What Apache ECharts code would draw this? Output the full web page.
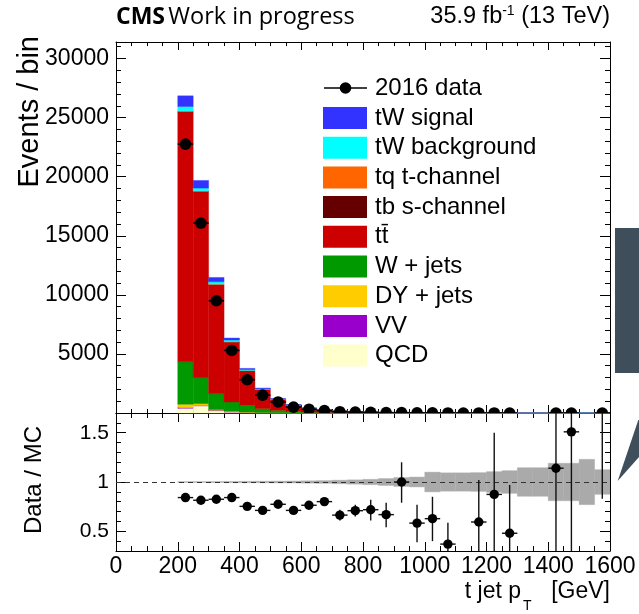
<!DOCTYPE html>
<html><head><meta charset="utf-8">
<script src="https://cdn.jsdelivr.net/npm/echarts@6.0.0/dist/echarts.min.js"></script>
<style>html,body{margin:0;padding:0;background:#fff}#c{width:639px;height:614px}</style>
</head><body><div id="c"></div>
<script>
// ---- bins (GeV) ----
const binLow  = [200,250,300,350,400,450,500,550,600,650,700,750,800,850,900,950,1000,1050,1100,1150,1200,1250,1300,1350,1400,1450,1500,1550];
const binHigh = [250,300,350,400,450,500,550,600,650,700,750,800,850,900,950,1000,1050,1100,1150,1200,1250,1300,1350,1400,1450,1500,1550,1600];

// ---- MC components (events / bin), stacked bottom -> top ----
const qcd    = [400,600,200,80,40,20,12,7,4,2.5,1.5,1,0.6,0.4,0.3,0.2,0.15,0.1,0.08,0.05,0.03,0.02,0.02,0.01,0.01,0.01,0,0];
const vv     = [60,40,40,20,10,8,5,3,2,1.2,0.8,0.5,0.3,0.2,0.15,0.1,0.07,0.05,0.04,0.03,0.02,0.01,0.01,0.01,0,0,0,0];
const dyjets = [280,150,50,50,30,17,10,6,4,2.5,1.5,1,0.6,0.4,0.25,0.2,0.13,0.1,0.08,0.05,0.03,0.02,0.01,0.01,0.01,0.01,0.01,0];
const wjets  = [3600,2200,1340,780,560,320,200,115,70,45,29,18.5,12,8,5.5,3.8,2.7,2.1,1.5,1.0,0.68,0.42,0.32,0.24,0.18,0.13,0.1,0.08];
const ttbar  = [21135,15740,9222,5072,2935,1633,928,538,320,196,125,78,51,33.8,22.3,15,10.6,8,5.85,3.7,2.5,1.52,1.16,0.87,0.64,0.48,0.37,0.3];
const tbS    = [15,10,5,3,2,1,1,0.5,0.3,0.2,0.1,0.1,0.05,0.03,0.02,0.01,0.01,0.01,0.01,0,0,0,0,0,0,0,0,0];
const tqT    = [85,70,50,30,18,11,6,3.5,2.2,1.3,0.9,0.6,0.35,0.27,0.18,0.12,0.09,0.07,0.05,0.03,0.02,0.01,0.01,0.01,0.01,0,0,0];
const tWbkg  = [365,225,200,140,80,45,20,12,7.5,4.8,3,1.9,1.3,0.8,0.55,0.4,0.3,0.22,0.15,0.1,0.07,0.04,0.03,0.02,0.01,0.01,0.01,0.01];
const tWsig  = [905,645,365,170,100,60,28,17,10,6.5,4.2,2.4,1.8,1.1,0.75,0.67,0.45,0.35,0.24,0.14,0.11,0.06,0.04,0.03,0.02,0.02,0.01,0.01];

// ---- 2016 data (events / bin); null = not drawn ----
const dataCounts = [22760,16075,9500,5296,2817,1510,937,500,321,208,110,74,49,30,30,12,9,4,0,3,3,1,null,null,1,1,null,1];

// ---- ratio panel ----
const ratioVal = [0.842,0.815,0.825,0.842,0.753,0.712,0.774,0.712,0.764,0.801,0.664,0.709,0.719,0.669,1.0,0.583,0.628,0.37,null,0.594,0.874,0.48,null,null,1.14,1.509,null,2.5];
const ratioLo  = [0.832,0.805,0.813,0.828,0.737,0.694,0.752,0.687,0.734,0.766,0.609,0.649,0.61,0.54,0.79,0.39,0.40,0.2,null,0.2,0.2,0.1,null,null,0.1,0.2,null,0.83];
const ratioHi  = [0.852,0.825,0.837,0.856,0.769,0.73,0.796,0.737,0.794,0.836,0.719,0.769,0.82,0.79,1.20,0.77,0.85,0.587,null,1.02,1.5,0.97,null,null,2.5,3.0,null,4.0];
const bandHalf = [0.004,0.004,0.005,0.006,0.007,0.008,0.009,0.01,0.012,0.014,0.018,0.022,0.027,0.035,0.045,0.05,0.10,0.093,0.093,0.095,0.105,0.115,0.145,0.145,0.19,0.19,0.23,0.125];

// ---- ticks ----
const mainMajorTicks = [5000,10000,15000,20000,25000,30000];
const mainMinorTicks = [1000,2000,3000,4000,6000,7000,8000,9000,11000,12000,13000,14000,16000,17000,18000,19000,21000,22000,23000,24000,26000,27000,28000,29000,31000];
const ratioMajorTicks = [0.5,1,1.5];
const ratioMinorTicks = [0.3,0.4,0.6,0.7,0.8,0.9,1.1,1.2,1.3,1.4,1.6,1.7];

const FONT = 'Liberation Sans';
const components = [
  {name:'QCD', color:'#ffffcc', values:qcd},
  {name:'VV', color:'#9900cc', values:vv},
  {name:'DY + jets', color:'#ffcc00', values:dyjets},
  {name:'W + jets', color:'#009900', values:wjets},
  {name:'tt\u0304', color:'#cc0000', values:ttbar},
  {name:'tb s-channel', color:'#660000', values:tbS},
  {name:'tq t-channel', color:'#ff6600', values:tqT},
  {name:'tW background', color:'#00ffff', values:tWbkg},
  {name:'tW signal', color:'#3333ff', values:tWsig}
];

function rectRender(color){
  return function(params, api){
    const y0 = api.value(2), y1 = api.value(3);
    if (!(y1 > y0)) return null;
    const a = api.coord([api.value(0), y0]);
    const b = api.coord([api.value(1), y1]);
    return {type:'rect', shape:{x:a[0], y:b[1], width:b[0]-a[0], height:a[1]-b[1]},
            style:{fill:color, stroke:color, lineWidth:0.4}};
  };
}

const series = [];
const running = binLow.map(()=>0);
components.forEach(c=>{
  const d = binLow.map((lo,i)=>{ const b = running[i]; running[i] += c.values[i]; return [lo, binHigh[i], b, running[i]]; });
  series.push({type:'custom', name:c.name, xAxisIndex:0, yAxisIndex:0, data:d, encode:{x:[0,1], y:[2,3]},
               renderItem:rectRender(c.color), z:2, silent:true});
});

// data points in main pad
const mainPts = [];
binLow.forEach((lo,i)=>{ if (dataCounts[i] !== null) mainPts.push([(lo+binHigh[i])/2, lo, binHigh[i], dataCounts[i]]); });
series.push({type:'custom', name:'2016 data', xAxisIndex:0, yAxisIndex:0, data:mainPts, clip:true, z:5, silent:true,
  encode:{x:0, y:3},
  renderItem:function(params, api){
    const y = api.value(3);
    const p = api.coord([api.value(0), y]);
    const l = api.coord([api.value(1), y]);
    const r = api.coord([api.value(2), y]);
    return {type:'group', children:[
      {type:'line', shape:{x1:l[0], y1:p[1], x2:r[0], y2:p[1]}, style:{stroke:'#000', lineWidth:1.6}},
      {type:'circle', shape:{cx:p[0], cy:p[1], r:5.8}, style:{fill:'#000'}}
    ]};
  }});

// ratio band
const bandData = binLow.map((lo,i)=>[lo, binHigh[i], 1-bandHalf[i], 1+bandHalf[i]]);
series.push({type:'custom', name:'band', xAxisIndex:2, yAxisIndex:4, data:bandData, clip:true, z:2, silent:true,
  encode:{x:[0,1], y:[2,3]}, renderItem:rectRender('#aaaaaa'),
  markLine:{silent:true, symbol:'none', label:{show:false}, animation:false,
    lineStyle:{type:[5,4], color:'#333', width:1}, data:[{yAxis:1}]}});

// ratio points
const ratioPts = [];
binLow.forEach((lo,i)=>{ if (ratioVal[i] !== null) ratioPts.push([(lo+binHigh[i])/2, lo, binHigh[i], ratioVal[i], ratioLo[i], ratioHi[i]]); });
series.push({type:'custom', name:'ratio', xAxisIndex:2, yAxisIndex:4, data:ratioPts, clip:true, z:6, silent:true,
  encode:{x:0, y:3},
  renderItem:function(params, api){
    const xc = api.value(0), v = api.value(3);
    const p = api.coord([xc, v]);
    const l = api.coord([api.value(1), v]);
    const r = api.coord([api.value(2), v]);
    const lo = api.coord([xc, api.value(4)]);
    const hi = api.coord([xc, api.value(5)]);
    return {type:'group', children:[
      {type:'line', shape:{x1:lo[0], y1:lo[1], x2:hi[0], y2:hi[1]}, style:{stroke:'#111', lineWidth:1.4}},
      {type:'line', shape:{x1:l[0], y1:p[1], x2:r[0], y2:p[1]}, style:{stroke:'#111', lineWidth:1.4}},
      {type:'circle', shape:{cx:p[0], cy:p[1], r:4.7}, style:{fill:'#000'}}
    ]};
  }});

function xAx(grid, pos, labels, majorLen, minorLen){
  return {gridIndex:grid, type:'value', position:pos, min:0, max:1600, interval:200,
    axisLine:{show:true, onZero:false, lineStyle:{color:'#000', width:1}},
    axisTick:{show:true, inside:true, length:majorLen, lineStyle:{color:'#000', width:1}},
    minorTick:{show:true, splitNumber:4, length:minorLen, lineStyle:{color:'#000', width:1}},
    axisLabel:{show:labels, fontFamily:FONT, fontSize:23, color:'#000', margin:4, formatter:v=>String(v)},
    splitLine:{show:false}, minorSplitLine:{show:false}};
}
function yAx(grid, pos, min, max, ticks, len, labels, line, fs){
  return {gridIndex:grid, type:'value', position:pos, min:min, max:max,
    axisLine:{show:line, onZero:false, lineStyle:{color:'#000', width:1}},
    axisTick:{show:true, inside:true, length:len, customValues:ticks, lineStyle:{color:'#000', width:1}},
    axisLabel:{show:labels, customValues:ticks, fontFamily:FONT, fontSize:fs, color:'#000', margin:7, formatter:v=>String(v)},
    splitLine:{show:false}};
}

const legendItems = [
  {name:'tW signal', color:'#3333ff'},
  {name:'tW background', color:'#00ffff'},
  {name:'tq t-channel', color:'#ff6600'},
  {name:'tb s-channel', color:'#660000'},
  {name:'tt\u0304', color:'#cc0000'},
  {name:'W + jets', color:'#009900'},
  {name:'DY + jets', color:'#ffcc00'},
  {name:'VV', color:'#9900cc'},
  {name:'QCD', color:'#ffffcc'}
];
const LEGFONT = '24px "Liberation Sans"';
const graphics = [];
// legend: data entry
graphics.push({type:'line', shape:{x1:324, y1:88, x2:367, y2:88}, style:{stroke:'#000', lineWidth:1.6}, z:10});
graphics.push({type:'circle', shape:{cx:345.5, cy:88, r:5.8}, style:{fill:'#000'}, z:10});
graphics.push({type:'text', x:375, y:88, style:{text:'2016 data', font:LEGFONT, fill:'#000', verticalAlign:'middle', align:'left'}, z:10});
legendItems.forEach((it,k)=>{
  const yc = 118 + k*29.7;
  graphics.push({type:'rect', shape:{x:323, y:yc-11, width:44, height:22}, style:{fill:it.color}, z:10});
  graphics.push({type:'text', x:375, y:yc, style:{text:it.name, font:LEGFONT, fill:'#000', verticalAlign:'middle', align:'left'}, z:10});
});
// header
graphics.push({type:'text', x:116, y:17, style:{text:'{b|CMS} {n|Work in progress}', verticalAlign:'middle', align:'left',
  rich:{b:{fontFamily:'Open Sans', fontWeight:'bold', fontSize:23, fill:'#000'}, n:{fontFamily:'Open Sans', fontSize:23.5, fill:'#000'}}}});
graphics.push({type:'text', x:610, y:17, style:{text:'{n|35.9 fb}{s|-1}{n| (13 TeV)}', verticalAlign:'middle', align:'right',
  rich:{n:{fontFamily:FONT, fontSize:23.5, fill:'#000', lineHeight:26}, s:{fontFamily:FONT, fontSize:14, fill:'#000', verticalAlign:'top', lineHeight:26}}}});
// axis titles
graphics.push({type:'text', x:30, y:36, rotation:Math.PI/2, style:{text:'Events / bin', font:'29px "Liberation Sans"', fill:'#000', align:'right', verticalAlign:'middle'}});
graphics.push({type:'text', x:34, y:480, rotation:Math.PI/2, style:{text:'Data / MC', font:'24px "Liberation Sans"', fill:'#000', align:'center', verticalAlign:'middle'}});
graphics.push({type:'text', x:610, y:592, style:{text:'[GeV]', font:'23px "Liberation Sans"', fill:'#000', align:'right', verticalAlign:'middle'}});
graphics.push({type:'text', x:521, y:592, style:{text:'t jet p', font:'23px "Liberation Sans"', fill:'#000', align:'right', verticalAlign:'middle'}});
graphics.push({type:'text', x:523, y:606, style:{text:'T', font:'14px "Liberation Sans"', fill:'#000', align:'left', verticalAlign:'middle'}});
// decorations at right edge
graphics.push({type:'rect', shape:{x:615, y:228, width:24, height:145}, style:{fill:'#3e4f5b'}});
graphics.push({type:'polygon', shape:{points:[[638.3,420],[639,420],[639,457],[617.7,481]]}, style:{fill:'#3e4f5b'}});

const chart = echarts.init(document.getElementById('c'), null, {renderer:'canvas'});
chart.setOption({
  animation:false,
  backgroundColor:'#fff',
  grid:[
    {left:116, right:29, top:42, height:371},
    {left:116, right:29, top:413, height:138}
  ],
  xAxis:[ xAx(0,'bottom',false,8,4), xAx(0,'top',false,8,4), xAx(1,'bottom',true,9,5), xAx(1,'top',false,9,5) ],
  yAxis:[
    yAx(0,'left',0,31400,mainMajorTicks,10,true,true,23),
    yAx(0,'left',0,31400,mainMinorTicks,5,false,false,23),
    yAx(0,'right',0,31400,mainMajorTicks,10,false,true,23),
    yAx(0,'right',0,31400,mainMinorTicks,5,false,false,23),
    yAx(1,'left',0.3,1.7,ratioMajorTicks,10,true,true,21),
    yAx(1,'left',0.3,1.7,ratioMinorTicks,5,false,false,21),
    yAx(1,'right',0.3,1.7,ratioMajorTicks,10,false,true,21),
    yAx(1,'right',0.3,1.7,ratioMinorTicks,5,false,false,21)
  ],
  series:series,
  graphic:graphics
});
</script></body></html>
